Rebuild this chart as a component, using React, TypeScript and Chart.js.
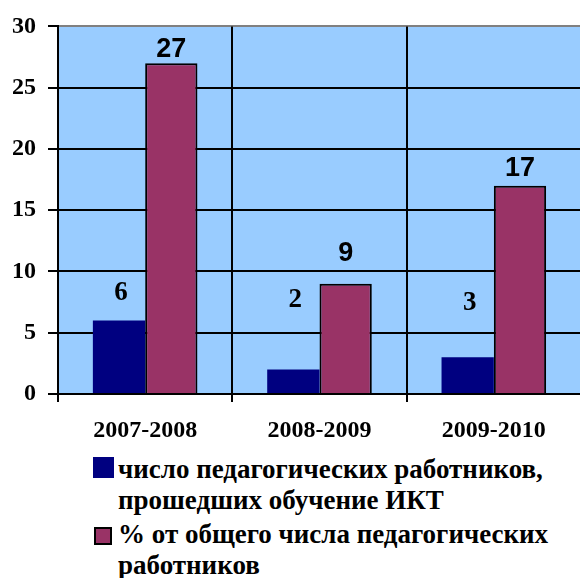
import React, { useEffect, useRef } from "react";
import { Chart, registerables } from "chart.js";

Chart.register(...registerables);

const categories = ["2007-2008", "2008-2009", "2009-2010"];
const teachersTrained = [6, 2, 3];
const percentOfTotal = [27, 9, 17];
const seriesNames = [
  ["число педагогических работников,", "прошедших обучение ИКТ"],
  ["% от общего числа педагогических", "работников"],
];
const yMin = 0;
const yMax = 30;
const yStep = 5;

const BLUE = "#000080";
const MAROON = "#993366";
const PLOT_BG = "#99CCFF";
const SERIF = "Liberation Serif, Times New Roman, DejaVu Serif, serif";

// label anchor values (data units) as placed in the original chart
const blueLabelAnchor = [8.2, 7.7, 7.4];
const maroonLabelAnchor = [28.1, 11.5, 18.4];

const bgPlugin = {
  id: "plotBg",
  beforeDraw(chart: any) {
    const { ctx, chartArea } = chart;
    ctx.save();
    ctx.fillStyle = PLOT_BG;
    ctx.fillRect(chartArea.left, chartArea.top, chartArea.right - chartArea.left, chartArea.bottom - chartArea.top);
    ctx.restore();
  },
};

const labelPlugin = {
  id: "valueLabels",
  afterDatasetsDraw(chart: any) {
    const { ctx } = chart;
    const yScale = chart.scales.y;
    ctx.save();
    ctx.fillStyle = "#000";
    ctx.textAlign = "center";
    ctx.textBaseline = "middle";
    const m0 = chart.getDatasetMeta(0);
    ctx.font = "bold 27px " + SERIF;
    m0.data.forEach((bar: any, i: number) => {
      ctx.fillText(String(teachersTrained[i]), bar.x + 2, yScale.getPixelForValue(blueLabelAnchor[i]));
    });
    const m1 = chart.getDatasetMeta(1);
    ctx.font = "bold 27px Liberation Sans, Arial, sans-serif";
    m1.data.forEach((bar: any, i: number) => {
      ctx.fillText(String(percentOfTotal[i]), bar.x, yScale.getPixelForValue(maroonLabelAnchor[i]));
    });
    ctx.restore();
  },
};

export default function App() {
  const ref = useRef<HTMLCanvasElement>(null);

  useEffect(() => {
    document.body.style.margin = "0";
    const canvas = ref.current!;
    const chart = new Chart(canvas, {
      type: "bar",
      data: {
        labels: categories,
        datasets: [
          {
            label: seriesNames[0].join(" "),
            data: teachersTrained,
            backgroundColor: BLUE,
            borderWidth: 0,
            categoryPercentage: 0.6,
            barPercentage: 1.0,
          },
          {
            label: seriesNames[1].join(" "),
            data: percentOfTotal,
            backgroundColor: MAROON,
            borderColor: "#000",
            borderWidth: 2,
            categoryPercentage: 0.6,
            barPercentage: 1.0,
          },
        ],
      },
      options: {
        responsive: false,
        animation: false,
        devicePixelRatio: 1,
        layout: { padding: { top: 24, right: 3, left: 0, bottom: 0 } },
        plugins: {
          legend: { display: false },
          tooltip: { enabled: false },
        },
        scales: {
          y: {
            min: yMin,
            max: yMax,
            ticks: {
              stepSize: yStep,
              color: "#000",
              padding: 12,
              font: { family: SERIF, weight: "bold", size: 24 },
            },
            grid: {
              color: (c: any) => (c.tick && c.tick.value === yMax ? "#808080" : "#000"),
              lineWidth: 2,
              tickColor: "#000",
              tickLength: 10,
            },
            border: { color: "#000", width: 2 },
            afterFit: (s: any) => {
              s.width = 58;
            },
          },
          x: {
            ticks: {
              color: "#000",
              padding: 14,
              font: { family: SERIF, weight: "bold", size: 24 },
            },
            grid: {
              offset: true,
              color: "#000",
              lineWidth: 2,
              tickColor: "#000",
              tickLength: 8,
            },
            border: { color: "#000", width: 2 },
            afterFit: (s: any) => {
              s.height = 51;
            },
          },
        },
      },
      plugins: [bgPlugin, labelPlugin],
    });
    return () => chart.destroy();
  }, []);

  const textStyle: React.CSSProperties = {
    position: "absolute",
    left: 118,
    fontFamily: SERIF,
    fontWeight: "bold",
    fontSize: 27,
    lineHeight: "31px",
    color: "#000",
    whiteSpace: "nowrap",
  };

  return (
    <div style={{ position: "absolute", left: 0, top: 0, width: 580, height: 578, overflow: "hidden", background: "#fff" }}>
      <canvas ref={ref} width={584} height={445} style={{ display: "block", width: 584, height: 445 }} />
      <div style={{ position: "absolute", left: 93, top: 457, width: 21, height: 21, background: BLUE }} />
      <div style={{ ...textStyle, top: 454 }}>
        {seriesNames[0][0]}
        <br />
        {seriesNames[0][1]}
      </div>
      <div style={{ position: "absolute", left: 94, top: 527, width: 18, height: 18, background: MAROON, border: "2px solid #000", boxSizing: "border-box" }} />
      <div style={{ ...textStyle, top: 519 }}>
        {seriesNames[1][0]}
        <br />
        {seriesNames[1][1]}
      </div>
    </div>
  );
}
